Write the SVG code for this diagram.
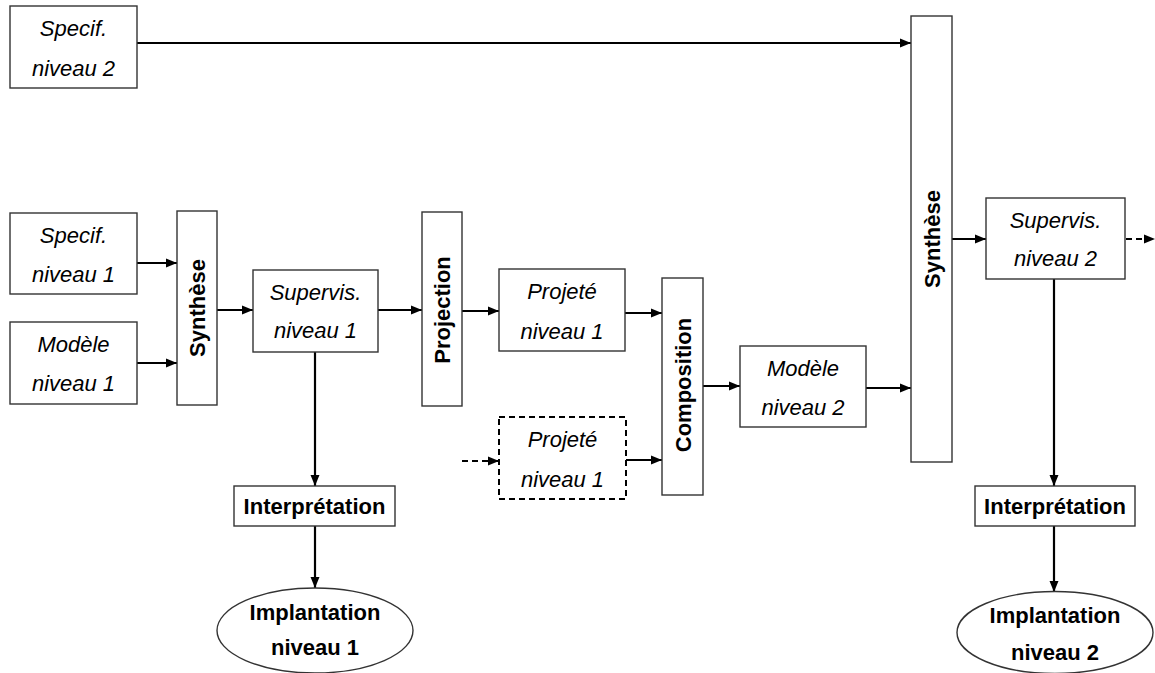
<svg xmlns="http://www.w3.org/2000/svg" width="1155" height="673" viewBox="0 0 1155 673">
<style>
.box{fill:#fff;stroke:#333;stroke-width:1.4}
.dbox{fill:#fff;stroke:#000;stroke-width:2;stroke-dasharray:6,4}
.it{font-family:"Liberation Sans",Arial,sans-serif;font-size:22px;font-style:italic;text-anchor:middle;fill:#000}
.bd{font-family:"Liberation Sans",Arial,sans-serif;font-size:22px;font-weight:bold;text-anchor:middle;fill:#000}
.c{fill:none;stroke:#000;stroke-width:2.2;marker-end:url(#ah)}
.cd{fill:none;stroke:#000;stroke-width:2.2;stroke-dasharray:6,4;marker-end:url(#ah)}
</style>
<defs>
<marker id="ah" markerUnits="userSpaceOnUse" markerWidth="12" markerHeight="10" refX="11" refY="5" orient="auto">
<path d="M0,0.5 L11,5 L0,9.5 z" fill="#000"/>
</marker>
</defs>
<g id="connectors">
<path class="c" d="M137,43 H911"/>
<path class="c" d="M137,263 H177"/>
<path class="c" d="M137,363 H177"/>
<path class="c" d="M217,310 H253"/>
<path class="c" d="M378,310 H422"/>
<path class="c" d="M462,311 H499"/>
<path class="c" d="M625,313 H662"/>
<path class="cd" d="M462,461 H499"/>
<path class="c" d="M626,460 H662"/>
<path class="c" d="M703,386 H740"/>
<path class="c" d="M866,388 H911"/>
<path class="c" d="M952,239 H986"/>
<path class="cd" d="M1126,239 H1155"/>
<path class="c" d="M315,352 V486"/>
<path class="c" d="M315,526 V588"/>
<path class="c" d="M1054,279 V486"/>
<path class="c" d="M1054,526 V592"/>
</g>
<g id="specif2">
<rect class="box" x="10" y="6" width="127" height="82"/>
<text class="it" x="73.5" y="36">Specif.</text>
<text class="it" x="73.5" y="76">niveau 2</text>
</g>
<g id="specif1">
<rect class="box" x="10" y="213" width="127" height="81"/>
<text class="it" x="73.5" y="243">Specif.</text>
<text class="it" x="73.5" y="282">niveau 1</text>
</g>
<g id="modele1">
<rect class="box" x="10" y="322" width="127" height="82"/>
<text class="it" x="73.5" y="352">Modèle</text>
<text class="it" x="73.5" y="391">niveau 1</text>
</g>
<g id="synthese1">
<rect class="box" x="177" y="211" width="40" height="194"/>
<text class="bd" transform="translate(205,308) rotate(-90)">Synthèse</text>
</g>
<g id="supervis1">
<rect class="box" x="253" y="270" width="125" height="82"/>
<text class="it" x="315.5" y="300">Supervis.</text>
<text class="it" x="315.5" y="338">niveau 1</text>
</g>
<g id="projection">
<rect class="box" x="422" y="212" width="40" height="194"/>
<text class="bd" transform="translate(450,310) rotate(-90)">Projection</text>
</g>
<g id="projete1">
<rect class="box" x="499" y="269" width="126" height="82"/>
<text class="it" x="562" y="299">Projeté</text>
<text class="it" x="562" y="339">niveau 1</text>
</g>
<g id="projete1b">
<rect class="dbox" x="499" y="417" width="127" height="82"/>
<text class="it" x="562.5" y="447">Projeté</text>
<text class="it" x="562.5" y="487">niveau 1</text>
</g>
<g id="composition">
<rect class="box" x="662" y="278" width="41" height="217"/>
<text class="bd" transform="translate(690.5,385) rotate(-90)">Composition</text>
</g>
<g id="modele2">
<rect class="box" x="740" y="346" width="126" height="81"/>
<text class="it" x="803" y="376">Modèle</text>
<text class="it" x="803" y="415">niveau 2</text>
</g>
<g id="synthese2">
<rect class="box" x="911" y="16" width="41" height="446"/>
<text class="bd" transform="translate(939.5,239) rotate(-90)">Synthèse</text>
</g>
<g id="supervis2">
<rect class="box" x="986" y="198" width="139" height="81"/>
<text class="it" x="1055.5" y="228">Supervis.</text>
<text class="it" x="1055.5" y="266">niveau 2</text>
</g>
<g id="interp1">
<rect class="box" x="234" y="486" width="161" height="40"/>
<text class="bd" x="314.5" y="514">Interprétation</text>
</g>
<g id="interp2">
<rect class="box" x="975" y="486" width="160" height="40"/>
<text class="bd" x="1055" y="514">Interprétation</text>
</g>
<g id="implant1">
<ellipse class="box" cx="315" cy="630.5" rx="98" ry="42.5"/>
<text class="bd" x="315" y="620">Implantation</text>
<text class="bd" x="315" y="655">niveau 1</text>
</g>
<g id="implant2">
<ellipse class="box" cx="1055" cy="632.5" rx="98" ry="41"/>
<text class="bd" x="1055" y="623">Implantation</text>
<text class="bd" x="1055" y="660">niveau 2</text>
</g>
</svg>
